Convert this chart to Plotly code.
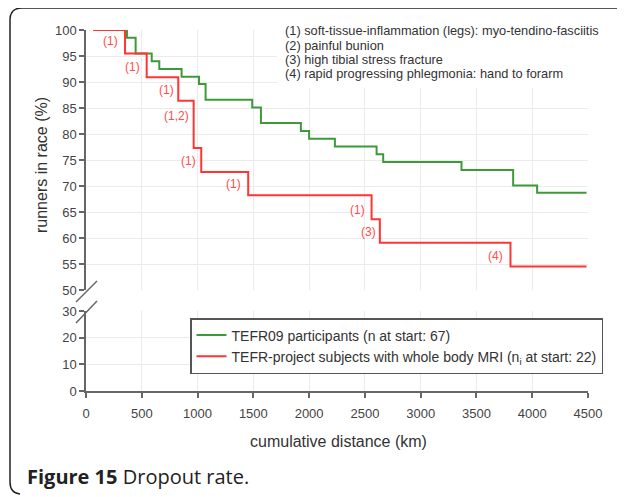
import plotly.graph_objects as go

# data
green_km = [64, 367, 445, 589, 657, 857, 1013, 1072, 1490, 1568, 1926, 2000,
            2231, 2605, 2664, 3366, 3829, 4044, 4487]
green_pct = [100, 98.5, 95.5, 94.0, 92.5, 91.0, 89.6, 86.6, 85.1, 82.1, 80.6, 79.1,
             77.6, 76.1, 74.6, 73.1, 70.1, 68.7, 68.7]
red_km = [64, 350, 544, 827, 965, 1033, 1454, 2560, 2634, 3805, 4487]
red_pct = [100, 95.5, 90.9, 86.4, 77.3, 72.7, 68.2, 63.6, 59.1, 54.5, 54.5]

lbl_text = ["(1)", "(1)", "(1)", "(1,2)", "(1)", "(1)", "(1)", "(3)", "(4)"]
lbl_km = [224, 421, 726, 815, 923, 1326, 2437, 2536, 3674]
lbl_pct = [97.9, 92.9, 88.5, 83.5, 74.8, 70.4, 65.4, 61.2, 56.5]

notes = ["(1) soft-tissue-inflammation (legs): myo-tendino-fasciitis",
         "(2) painful bunion",
         "(3) high tibial stress fracture",
         "(4) rapid progressing phlegmonia: hand to forarm"]

names = ["TEFR09 participants (n at start: 67)",
         "TEFR-project subjects with whole body MRI (n<sub>i</sub> at start: 22)"]

# page body has an 8px margin, so the figure is 8px smaller and everything
# below is given in screenshot pixels
W, H = 617, 489
L, R, T, B = 78, 37, 22, 106
PW, PH = W - L - R, H - T - B


def px(x):
    return (x - 86) / PW


def py(y):
    return (391 - y) / PH


FONT = "Liberation Sans, Arial"

fig = go.Figure()
fig.add_trace(go.Scatter(x=green_km, y=green_pct, mode="lines", line_shape="hv",
                         line=dict(color="#3d9a38", width=2), name=names[0],
                         xaxis="x2", yaxis="y"))
fig.add_trace(go.Scatter(x=red_km, y=red_pct, mode="lines", line_shape="hv",
                         line=dict(color="#ff3535", width=2), name=names[1],
                         xaxis="x2", yaxis="y"))
# empty trace so the lower panel exists
fig.add_trace(go.Scatter(x=[0], y=[-10], mode="markers", xaxis="x", yaxis="y2",
                         showlegend=False, hoverinfo="skip"))

for t, xx, yy in zip(lbl_text, lbl_km, lbl_pct):
    fig.add_annotation(x=xx, y=yy, xref="x2", yref="y", text=t, showarrow=False,
                       xanchor="center", yanchor="middle",
                       font=dict(size=12, color="#ff4d4d", family=FONT))

axis_common = dict(showline=True, linecolor="#666", linewidth=1.5, ticks="outside",
                   ticklen=5, tickcolor="#666", tickwidth=1.5, gridcolor="#ebebeb",
                   gridwidth=1, zeroline=False,
                   tickfont=dict(size=13, color="#444", family=FONT))

fig.update_layout(
    width=W, height=H, margin=dict(l=L, r=R, t=T, b=B),
    paper_bgcolor="white", plot_bgcolor="white",
    xaxis=dict(range=[0, 4500], dtick=500, anchor="y2", ticklabelstandoff=5,
               **axis_common),
    xaxis2=dict(range=[0, 4500], dtick=500, anchor="y", matches="x",
                showticklabels=False, showline=False, ticks="",
                gridcolor="#ebebeb", zeroline=False),
    yaxis=dict(range=[50, 100], dtick=5, domain=[py(290), 1], anchor="x2", **axis_common),
    yaxis2=dict(range=[0, 30], dtick=10, domain=[0, py(311)], anchor="x", **axis_common),
    legend=dict(x=px(190), y=py(318), xanchor="left", yanchor="top",
                bgcolor="white", bordercolor="#555", borderwidth=1.5,
                font=dict(size=14, color="#333", family=FONT),
                tracegroupgap=0),
    font=dict(family=FONT),
)

# white box behind the notes
fig.add_shape(type="rect", xref="paper", yref="paper", x0=px(277), x1=px(605),
              y0=py(88), y1=py(22), fillcolor="white", line_width=0, layer="above")
for i, note in enumerate(notes):
    fig.add_annotation(xref="paper", yref="paper", x=px(283), y=py(31 + 14 * i),
                       xanchor="left", yanchor="middle", showarrow=False, text=note,
                       font=dict(size=12.8, color="#333", family=FONT))

# axis break marks
for y0, y1 in [(302, 281), (323, 301)]:
    fig.add_shape(type="line", xref="paper", yref="paper", x0=px(76), y0=py(y0),
                  x1=px(97), y1=py(y1), line=dict(color="#666", width=1.5))

fig.add_annotation(xref="paper", yref="paper", x=px(41), y=py(165), text="runners in race (%)",
                   textangle=-90, showarrow=False, xanchor="center", yanchor="middle",
                   font=dict(size=16, color="#333"))
fig.add_annotation(xref="paper", yref="paper", x=px(338), y=py(441),
                   text="cumulative distance (km)", showarrow=False,
                   xanchor="center", yanchor="middle",
                   font=dict(size=16, color="#333"))
fig.add_annotation(xref="paper", yref="paper", x=px(25), y=py(476), xanchor="left",
                   yanchor="middle", text="<b>Figure 15</b> Dropout rate.", showarrow=False,
                   font=dict(size=20, color="#222", family="Open Sans"))

# outer frame
frame = (f"M {px(640)},{py(8)} L {px(22)},{py(8)} Q {px(10)},{py(8)} {px(10)},{py(20)} "
         f"L {px(10)},{py(482)} Q {px(10)},{py(493)} {px(20)},{py(494)}")
fig.add_shape(type="path", xref="paper", yref="paper", path=frame,
              line=dict(color="#222", width=1.5))

fig.write_html("out.html")
